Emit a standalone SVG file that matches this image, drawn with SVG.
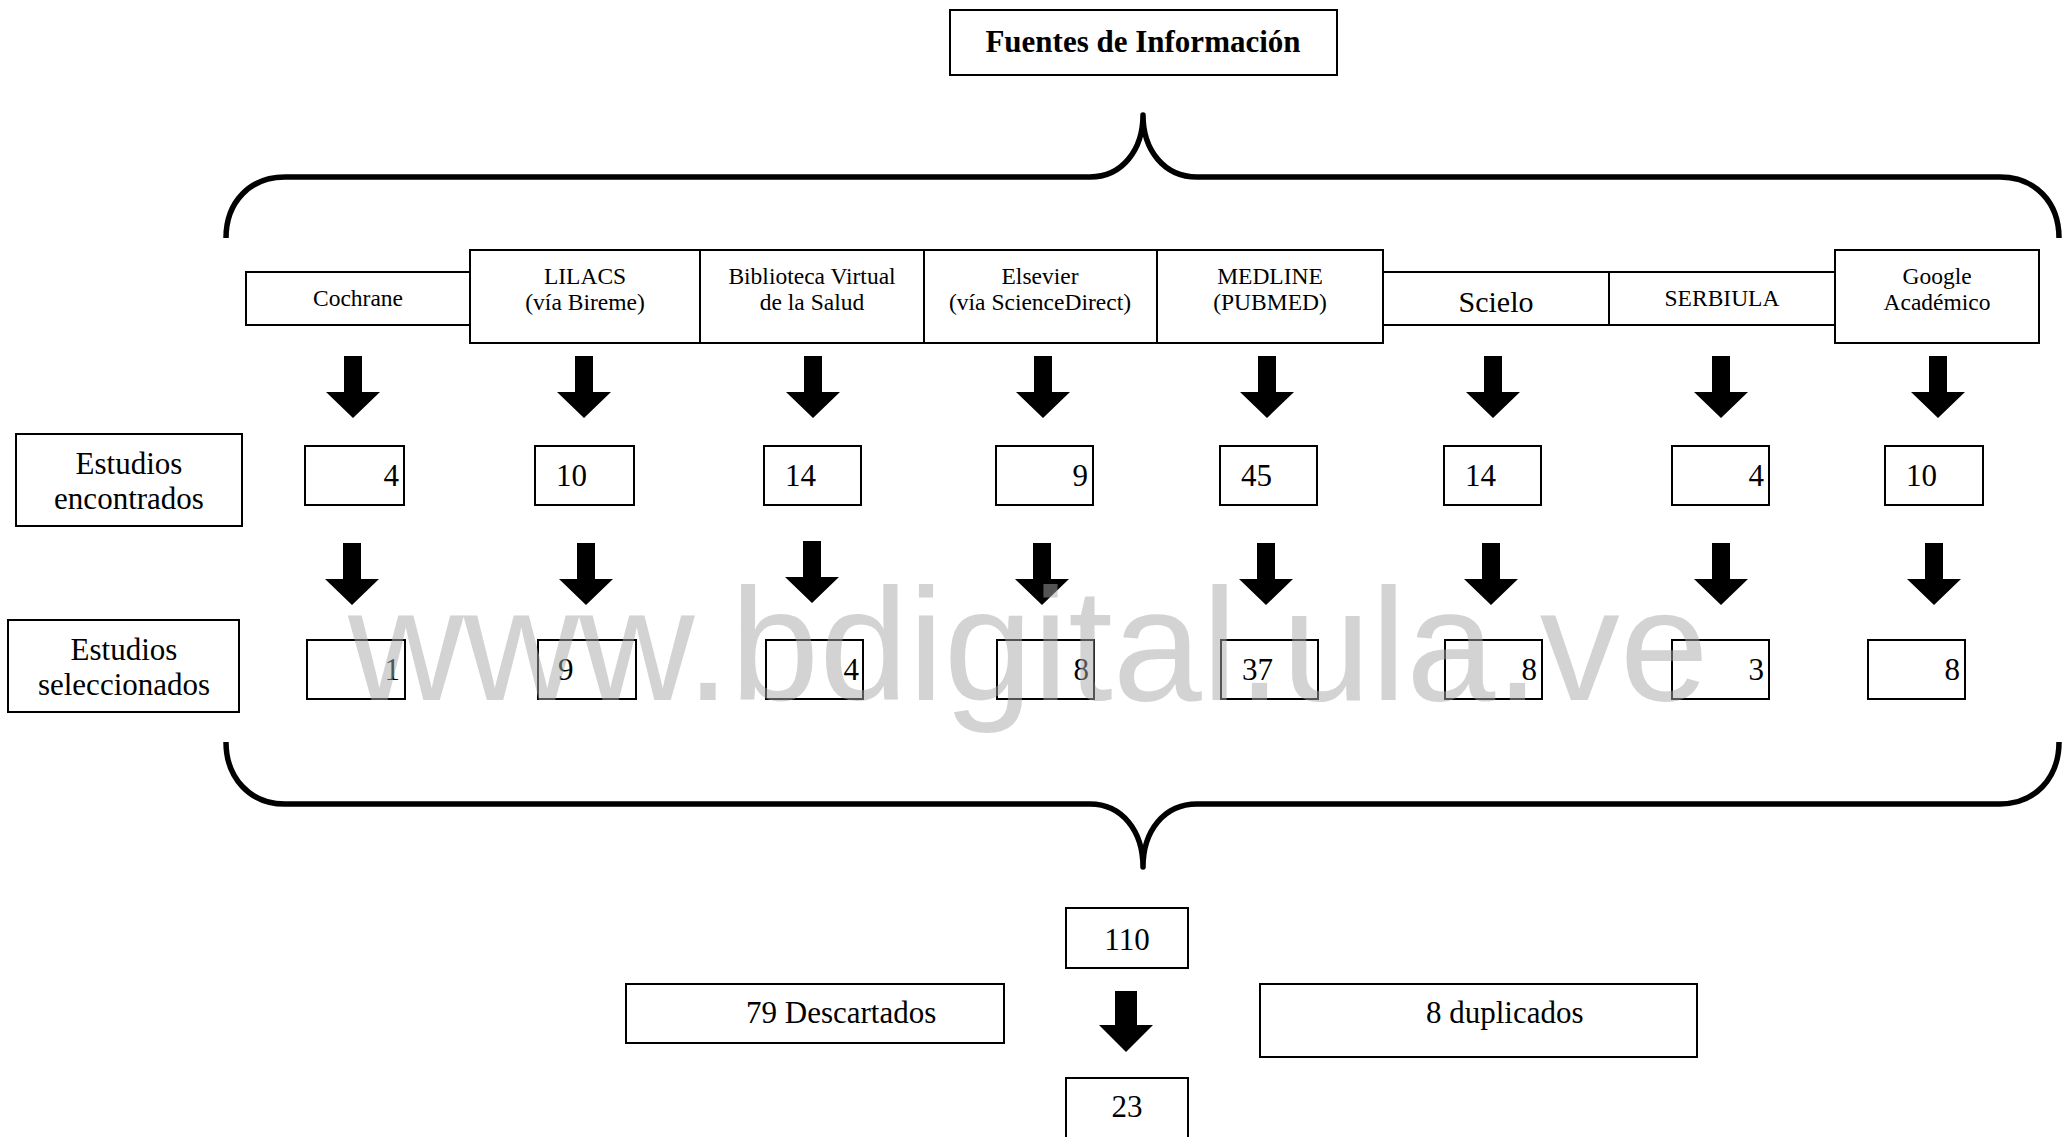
<svg xmlns="http://www.w3.org/2000/svg" width="2063" height="1137" viewBox="0 0 2063 1137">
<style>
.box{fill:#fff;stroke:#000;stroke-width:2}
.t{font-family:"Liberation Serif","Times New Roman",serif;fill:#000}
.src{font-size:23.5px;text-anchor:middle}
.num{font-size:31px}
.lbl{font-size:31px;text-anchor:middle}
.brace{fill:none;stroke:#000;stroke-width:5.5;stroke-linejoin:round}
.wm{font-family:"Liberation Sans",Arial,sans-serif;font-size:160px;fill:#a8a8a8;fill-opacity:.5}
</style>
<defs>
<path id="arr" d="M-9,0 H9 V36 H27 L0,62 L-27,36 H-9 Z" fill="#000"/>
<path id="arrB" d="M-11,0 H11 V34 H27 L0,61 L-27,34 H-11 Z" fill="#000"/>
</defs>
<rect width="2063" height="1137" fill="#fff"/>

<g id="title">
<rect class="box" x="950" y="10" width="387" height="65"/>
<text class="t" x="1143" y="52" font-size="31" font-weight="bold" text-anchor="middle">Fuentes de Información</text>
</g>

<g id="connectors">
<path class="brace" d="M226,238 C226,202 250,177 285,177 L1090,177 C1122,177 1143,150 1143,115 C1143,150 1164,177 1197,177 L2000,177 C2035,177 2059,202 2059,238"/>
<path class="brace" d="M226,742 C226,778 250,804 285,804 L1090,804 C1122,804 1143,831 1143,867 C1143,831 1164,804 1197,804 L2000,804 C2035,804 2059,778 2059,742"/>
<use href="#arr" x="353" y="356"/>
<use href="#arr" x="584" y="356"/>
<use href="#arr" x="813" y="356"/>
<use href="#arr" x="1043" y="356"/>
<use href="#arr" x="1267" y="356"/>
<use href="#arr" x="1493" y="356"/>
<use href="#arr" x="1721" y="356"/>
<use href="#arr" x="1938" y="356"/>
<use href="#arr" x="352" y="543"/>
<use href="#arr" x="586" y="543"/>
<use href="#arr" x="812" y="541"/>
<use href="#arr" x="1042" y="543"/>
<use href="#arr" x="1266" y="543"/>
<use href="#arr" x="1491" y="543"/>
<use href="#arr" x="1721" y="543"/>
<use href="#arr" x="1934" y="543"/>
<use href="#arrB" x="1126" y="991"/>
</g>

<g id="src-cochrane"><rect class="box" x="246" y="272" width="224" height="53"/><text class="t src" x="358" y="306">Cochrane</text></g>
<g id="src-lilacs"><rect class="box" x="470" y="250" width="230" height="93"/><text class="t src" x="585" y="284">LILACS</text><text class="t src" x="585" y="310">(vía Bireme)</text></g>
<g id="src-bvs"><rect class="box" x="700" y="250" width="224" height="93"/><text class="t src" x="812" y="284">Biblioteca Virtual</text><text class="t src" x="812" y="310">de la Salud</text></g>
<g id="src-elsevier"><rect class="box" x="924" y="250" width="233" height="93"/><text class="t src" x="1040" y="284">Elsevier</text><text class="t src" x="1040" y="310">(vía ScienceDirect)</text></g>
<g id="src-medline"><rect class="box" x="1157" y="250" width="226" height="93"/><text class="t src" x="1270" y="284">MEDLINE</text><text class="t src" x="1270" y="310">(PUBMED)</text></g>
<g id="src-scielo"><rect class="box" x="1383" y="272" width="226" height="53"/><text class="t" x="1496" y="312" font-size="30" text-anchor="middle">Scielo</text></g>
<g id="src-serbiula"><rect class="box" x="1609" y="272" width="226" height="53"/><text class="t src" x="1722" y="306">SERBIULA</text></g>
<g id="src-google"><rect class="box" x="1835" y="250" width="204" height="93"/><text class="t src" x="1937" y="284">Google</text><text class="t src" x="1937" y="310">Académico</text></g>

<g id="lbl-encontrados"><rect class="box" x="16" y="434" width="226" height="92"/><text class="t lbl" x="129" y="474">Estudios</text><text class="t lbl" x="129" y="509">encontrados</text></g>
<g id="lbl-seleccionados"><rect class="box" x="8" y="620" width="231" height="92"/><text class="t lbl" x="124" y="660">Estudios</text><text class="t lbl" x="124" y="695">seleccionados</text></g>

<g id="enc-cochrane"><rect class="box" x="305" y="446" width="99" height="59"/><text class="t num" x="399" y="486" text-anchor="end">4</text></g>
<g id="enc-lilacs"><rect class="box" x="535" y="446" width="99" height="59"/><text class="t num" x="556" y="486">10</text></g>
<g id="enc-bvs"><rect class="box" x="764" y="446" width="97" height="59"/><text class="t num" x="785" y="486">14</text></g>
<g id="enc-elsevier"><rect class="box" x="996" y="446" width="97" height="59"/><text class="t num" x="1088" y="486" text-anchor="end">9</text></g>
<g id="enc-medline"><rect class="box" x="1220" y="446" width="97" height="59"/><text class="t num" x="1241" y="486">45</text></g>
<g id="enc-scielo"><rect class="box" x="1444" y="446" width="97" height="59"/><text class="t num" x="1465" y="486">14</text></g>
<g id="enc-serbiula"><rect class="box" x="1672" y="446" width="97" height="59"/><text class="t num" x="1764" y="486" text-anchor="end">4</text></g>
<g id="enc-google"><rect class="box" x="1885" y="446" width="98" height="59"/><text class="t num" x="1906" y="486">10</text></g>

<g id="sel-cochrane"><rect class="box" x="307" y="640" width="98" height="59"/><text class="t num" x="400" y="680" text-anchor="end">1</text></g>
<g id="sel-lilacs"><rect class="box" x="538" y="640" width="98" height="59"/><text class="t num" x="558" y="680">9</text></g>
<g id="sel-bvs"><rect class="box" x="766" y="640" width="97" height="59"/><text class="t num" x="859" y="680" text-anchor="end">4</text></g>
<g id="sel-elsevier"><rect class="box" x="997" y="640" width="97" height="59"/><text class="t num" x="1089" y="680" text-anchor="end">8</text></g>
<g id="sel-medline"><rect class="box" x="1221" y="640" width="97" height="59"/><text class="t num" x="1242" y="680">37</text></g>
<g id="sel-scielo"><rect class="box" x="1445" y="640" width="97" height="59"/><text class="t num" x="1537" y="680" text-anchor="end">8</text></g>
<g id="sel-serbiula"><rect class="box" x="1672" y="640" width="97" height="59"/><text class="t num" x="1764" y="680" text-anchor="end">3</text></g>
<g id="sel-google"><rect class="box" x="1868" y="640" width="97" height="59"/><text class="t num" x="1960" y="680" text-anchor="end">8</text></g>

<g id="total"><rect class="box" x="1066" y="908" width="122" height="60"/><text class="t num" x="1127" y="950" text-anchor="middle">110</text></g>
<g id="descartados"><rect class="box" x="626" y="984" width="378" height="59"/><text class="t num" x="746" y="1023">79 Descartados</text></g>
<g id="duplicados"><rect class="box" x="1260" y="984" width="437" height="73"/><text class="t num" x="1426" y="1023">8 duplicados</text></g>
<g id="final"><rect class="box" x="1066" y="1078" width="122" height="70"/><text class="t num" x="1127" y="1117" text-anchor="middle">23</text></g>

<text class="wm" x="348" y="700">www.bdigital.ula.ve</text>
</svg>
